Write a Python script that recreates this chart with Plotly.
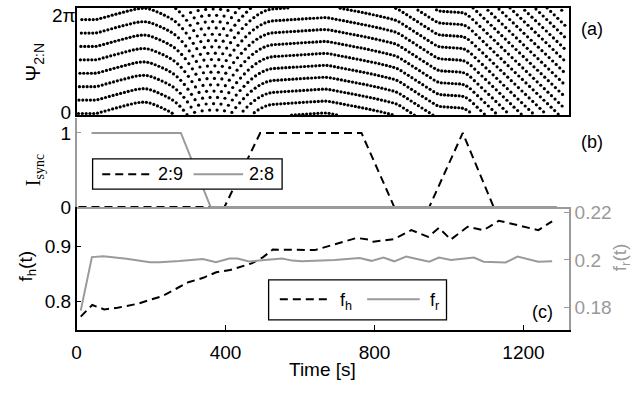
import numpy as np
import plotly.graph_objects as go

# ---------------- data ----------------
# panel (c): heart (left axis) and respiration (right axis) frequencies
fh_t = [11, 42, 74, 110, 163, 198, 230, 261, 300, 340, 375, 412, 440, 470, 500, 527, 640, 693,
        752, 784, 797, 853, 899, 944, 973, 1005, 1050, 1093, 1134, 1184, 1240, 1277]
fh_v = [0.773, 0.794, 0.786, 0.789, 0.796, 0.804, 0.810, 0.821, 0.835, 0.843, 0.853, 0.857, 0.863,
        0.869, 0.880, 0.894, 0.893, 0.904, 0.915, 0.912, 0.908, 0.913, 0.929, 0.917, 0.933, 0.912,
        0.935, 0.929, 0.946, 0.938, 0.929, 0.945]
fr_t = [11, 41, 72, 134, 197, 223, 276, 339, 374, 410, 432, 463, 490, 552, 579, 605, 693, 760,
        792, 824, 853, 885, 917, 947, 973, 1005, 1067, 1093, 1152, 1184, 1240, 1277]
fr_v = [0.1785, 0.2012, 0.2015, 0.2005, 0.1990, 0.1990, 0.1995, 0.2004, 0.1990, 0.2006, 0.2006,
        0.1993, 0.1997, 0.2006, 0.1997, 0.1994, 0.2000, 0.2008, 0.1996, 0.2010, 0.1994, 0.2014,
        0.2003, 0.1992, 0.2010, 0.2000, 0.2010, 0.1992, 0.1989, 0.2014, 0.1992, 0.1994]

# panel (b): synchronisation indices
s29_t = [5, 397, 493, 765, 853, 947, 1037, 1120, 1290]
s29_v = [0, 0, 1, 1, 0, 0, 1, 0, 0]
s28_t = [40, 280, 360, 1290]
s28_v = [1, 1, 0, 0]

# panel (a): effective number of heartbeats per two breaths
neff_t = [0, 45, 60, 150, 175, 200, 250, 300, 400, 460, 500, 530, 660, 680, 760, 850, 870,
          960, 980, 1030, 1060, 1320]
neff_v = [8.0, 8.0, 7.92, 7.93, 7.98, 8.10, 8.15, 8.40, 8.55, 8.70, 8.85, 8.98, 8.98, 9.06,
          9.06, 9.08, 9.20, 9.20, 9.02, 9.02, 9.30, 9.30]
psi_start = 0.096
beat_start, beat_end = 5.0, 1312.0

x_ticks = [0, 400, 800, 1200]
x_tick_text = ["0", "400", "800", "1200"]

# ---------------- derived stroboscopic phases ----------------
beats = []
t = beat_start
while t < beat_end:
    beats.append(t)
    t += 1.0 / np.interp(t, fh_t, fh_v)
beats = np.array(beats)
incr = 2 * np.pi / np.interp(beats, neff_t, neff_v)
psi = np.mod(psi_start + np.concatenate([[0], np.cumsum(incr[:-1])]), 2 * np.pi)

# ---------------- figure ----------------
W, H = 637, 398
GRAY = "#9a9a9a"
FONT = "Liberation Sans"


def px(x):
    return x / W


def py(y):
    return 1 - y / H


xdom = [px(72.2), px(568.5)]
XR = [0, (568.5 - 72.2) / 0.3753]

fig = go.Figure()
fig.add_trace(go.Scatter(x=beats, y=psi, mode="markers", xaxis="x", yaxis="y",
                         marker=dict(size=3.2, color="black"), showlegend=False))
fig.add_trace(go.Scatter(x=[None], y=[None], mode="markers", xaxis="x", yaxis="y5",
                         showlegend=False, hoverinfo="skip"))
fig.add_trace(go.Scatter(x=s29_t, y=s29_v, mode="lines", xaxis="x2", yaxis="y2",
                         line=dict(color="black", width=2, dash="8px,5px"), showlegend=False))
fig.add_trace(go.Scatter(x=s28_t, y=s28_v, mode="lines", xaxis="x2", yaxis="y2",
                         line=dict(color=GRAY, width=2), showlegend=False))
fig.add_trace(go.Scatter(x=fh_t, y=fh_v, mode="lines", xaxis="x3", yaxis="y3",
                         line=dict(color="black", width=2, dash="8px,5px"), showlegend=False))
fig.add_trace(go.Scatter(x=fr_t, y=fr_v, mode="lines", xaxis="x3", yaxis="y4",
                         line=dict(color=GRAY, width=2), showlegend=False))

tickfont = dict(family=FONT, size=19, color="black")

fig.update_layout(
    width=W, height=H, margin=dict(l=0, r=0, t=0, b=0),
    paper_bgcolor="white", plot_bgcolor="white",
    font=dict(family=FONT, size=18, color="black"),
    xaxis=dict(domain=xdom, range=XR, anchor="y", showline=True, linecolor="black", linewidth=1.5,
               mirror=True, showgrid=False, zeroline=False, showticklabels=False, ticks=""),
    yaxis=dict(domain=[py(115.5), py(4)], range=[0, 2 * np.pi], anchor="x", showline=True,
               linecolor="black", linewidth=1.5, mirror=True, showgrid=False, zeroline=False,
               tickvals=[0], ticktext=["0"], ticks="", tickfont=tickfont,
               ticklabeloverflow="allow", ticklabelshift=-3),
    yaxis5=dict(range=[0, 2 * np.pi], overlaying="y", anchor="x", side="left", showline=False,
                showgrid=False, zeroline=False, tickvals=[2 * np.pi * 0.99999], ticktext=["2π"],
                ticks="", tickfont=tickfont, ticklabeloverflow="allow", ticklabelshift=7),
    xaxis2=dict(domain=xdom, range=XR, anchor="y2", showline=True, linecolor=GRAY, linewidth=1.5,
                showgrid=False, zeroline=False, showticklabels=False, ticks=""),
    yaxis2=dict(domain=[py(211), py(118)], range=[0, 93 / 77], anchor="x2", showline=True,
                linecolor=GRAY, linewidth=1.5, showgrid=False, zeroline=False,
                tickvals=[0, 1], ticktext=["0", "1"], ticks="inside", ticklen=5, tickcolor=GRAY,
                tickfont=tickfont),
    xaxis3=dict(domain=xdom, range=XR, anchor="y3", showline=True, linecolor="black", linewidth=1.5,
                showgrid=False, zeroline=False, tickvals=x_ticks, ticktext=x_tick_text,
                ticks="inside", ticklen=5, tickcolor="black", tickfont=tickfont,
                ticklabelstandoff=4),
    yaxis3=dict(domain=[py(339), py(211)], range=[0.7484, 0.9707], anchor="x3", showline=True,
                linecolor="black", linewidth=1.5, showgrid=False, zeroline=False,
                tickvals=[0.8, 0.9], ticktext=["0.8", "0.9"], ticks="inside", ticklen=5,
                tickcolor="black", tickfont=tickfont),
    yaxis4=dict(range=[0.1702, 0.2224], overlaying="y3", anchor="x3", side="right", showline=True,
                linecolor=GRAY, linewidth=1.5, showgrid=False, zeroline=False,
                tickvals=[0.18, 0.2, 0.22], ticktext=["0.18", "0.2", "0.22"], ticks="inside",
                ticklen=5, tickcolor=GRAY, tickfont=dict(family=FONT, size=19, color=GRAY)),
)

ann = []


def add_text(x, y, text, size=18, color="black", angle=0, family=FONT):
    ann.append(dict(x=px(x), y=py(y), xref="paper", yref="paper", text=text, showarrow=False,
                    xanchor="center", yanchor="middle", textangle=angle,
                    font=dict(family=family, size=size, color=color)))


add_text(592, 26, "(a)")
add_text(592, 143, "(b)")
add_text(542, 320, "(c)")
add_text(320, 380, "Time [s]", size=19)
add_text(30, 60, "Ψ<sub>2:N</sub>", size=20, angle=-90)
add_text(30, 173, "I<sub>sync</sub>", size=20, angle=-90, family="Liberation Serif")
add_text(22, 272, "f<sub>h</sub>(t)", size=19, angle=-90)
add_text(621, 263, "f<sub>r</sub>(t)", size=19, angle=-90, color=GRAY)
# legend (b)
add_text(166.5, 177, "2:9")
add_text(258.5, 177, "2:8")
# legend (c)
add_text(344, 309, "f<sub>h</sub>")
add_text(433, 309, "f<sub>r</sub>")

shapes = [
    dict(type="rect", xref="paper", yref="paper", x0=px(88.3), x1=px(279.3), y0=py(192.3),
         y1=py(161), line=dict(color="black", width=1.3), fillcolor="white", layer="above"),
    dict(type="line", xref="paper", yref="paper", x0=px(98), x1=px(148), y0=py(177), y1=py(177),
         line=dict(color="black", width=2, dash="8px,5px"), layer="above"),
    dict(type="line", xref="paper", yref="paper", x0=px(190), x1=px(240), y0=py(177), y1=py(177),
         line=dict(color=GRAY, width=2), layer="above"),
    dict(type="rect", xref="paper", yref="paper", x0=px(265.7), x1=px(445), y0=py(328.3),
         y1=py(286.7), line=dict(color="black", width=1.3), fillcolor="white", layer="above"),
    dict(type="line", xref="paper", yref="paper", x0=px(277), x1=px(325), y0=py(306.7),
         y1=py(306.7), line=dict(color="black", width=2, dash="8px,5px"), layer="above"),
    dict(type="line", xref="paper", yref="paper", x0=px(365), x1=px(418), y0=py(306.7),
         y1=py(306.7), line=dict(color=GRAY, width=2), layer="above"),
]
fig.update_layout(annotations=ann, shapes=shapes)

fig.write_html("out.html")
